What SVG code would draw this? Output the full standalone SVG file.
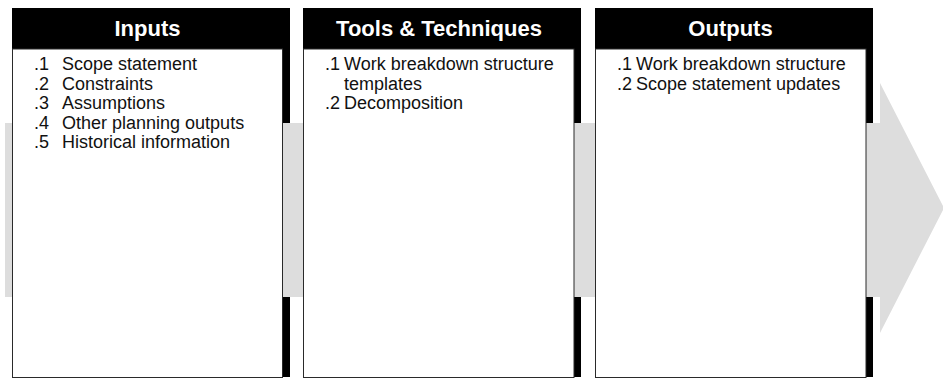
<svg xmlns="http://www.w3.org/2000/svg" width="943" height="379" viewBox="0 0 943 379">
<style>
.hdr{fill:#000}
.body{fill:#fff;stroke:#2a2a2a;stroke-width:1}
.title{font-family:"Liberation Sans",Arial,sans-serif;font-weight:bold;font-size:22px;fill:#fff;text-anchor:middle}
.item{font-family:"Liberation Sans",Arial,sans-serif;font-size:18px;fill:#111}
.flow{fill:#dddddd}
</style>
<g id="connectors">
<path class="flow" d="M5,123 H880 V83 L944,208 L880,333 V297 H5 Z"/>
</g>
<g id="inputs">
<rect class="hdr" x="12" y="8" width="278" height="41"/>
<rect class="hdr" x="283" y="49" width="7" height="74"/>
<rect class="hdr" x="283" y="297" width="7" height="80"/>
<rect class="body" x="12.5" y="49" width="270" height="328.5"/>
<text class="title" x="147.5" y="36">Inputs</text>
<text class="item" x="34" y="70">.1</text><text class="item" x="62" y="70">Scope statement</text>
<text class="item" x="34" y="90">.2</text><text class="item" x="62" y="90">Constraints</text>
<text class="item" x="34" y="109">.3</text><text class="item" x="62" y="109">Assumptions</text>
<text class="item" x="34" y="129">.4</text><text class="item" x="62" y="129">Other planning outputs</text>
<text class="item" x="34" y="148">.5</text><text class="item" x="62" y="148">Historical information</text>
</g>
<g id="tools">
<rect class="hdr" x="303" y="8" width="278" height="41"/>
<rect class="hdr" x="574" y="49" width="7" height="74"/>
<rect class="hdr" x="574" y="297" width="7" height="80"/>
<rect class="body" x="303.5" y="49" width="270.5" height="328.5"/>
<text class="title" x="439" y="36">Tools &amp; Techniques</text>
<text class="item" x="325" y="70">.1</text><text class="item" x="344" y="70">Work breakdown structure</text>
<text class="item" x="344" y="90">templates</text>
<text class="item" x="325" y="109">.2</text><text class="item" x="344" y="109">Decomposition</text>
</g>
<g id="outputs">
<rect class="hdr" x="595" y="8" width="278" height="41"/>
<rect class="hdr" x="866" y="49" width="7" height="74"/>
<rect class="hdr" x="866" y="297" width="7" height="80"/>
<rect class="body" x="595.5" y="49" width="270.5" height="328.5"/>
<text class="title" x="730.5" y="36">Outputs</text>
<text class="item" x="617" y="70">.1</text><text class="item" x="636" y="70">Work breakdown structure</text>
<text class="item" x="617" y="90">.2</text><text class="item" x="636" y="90">Scope statement updates</text>
</g>
</svg>
